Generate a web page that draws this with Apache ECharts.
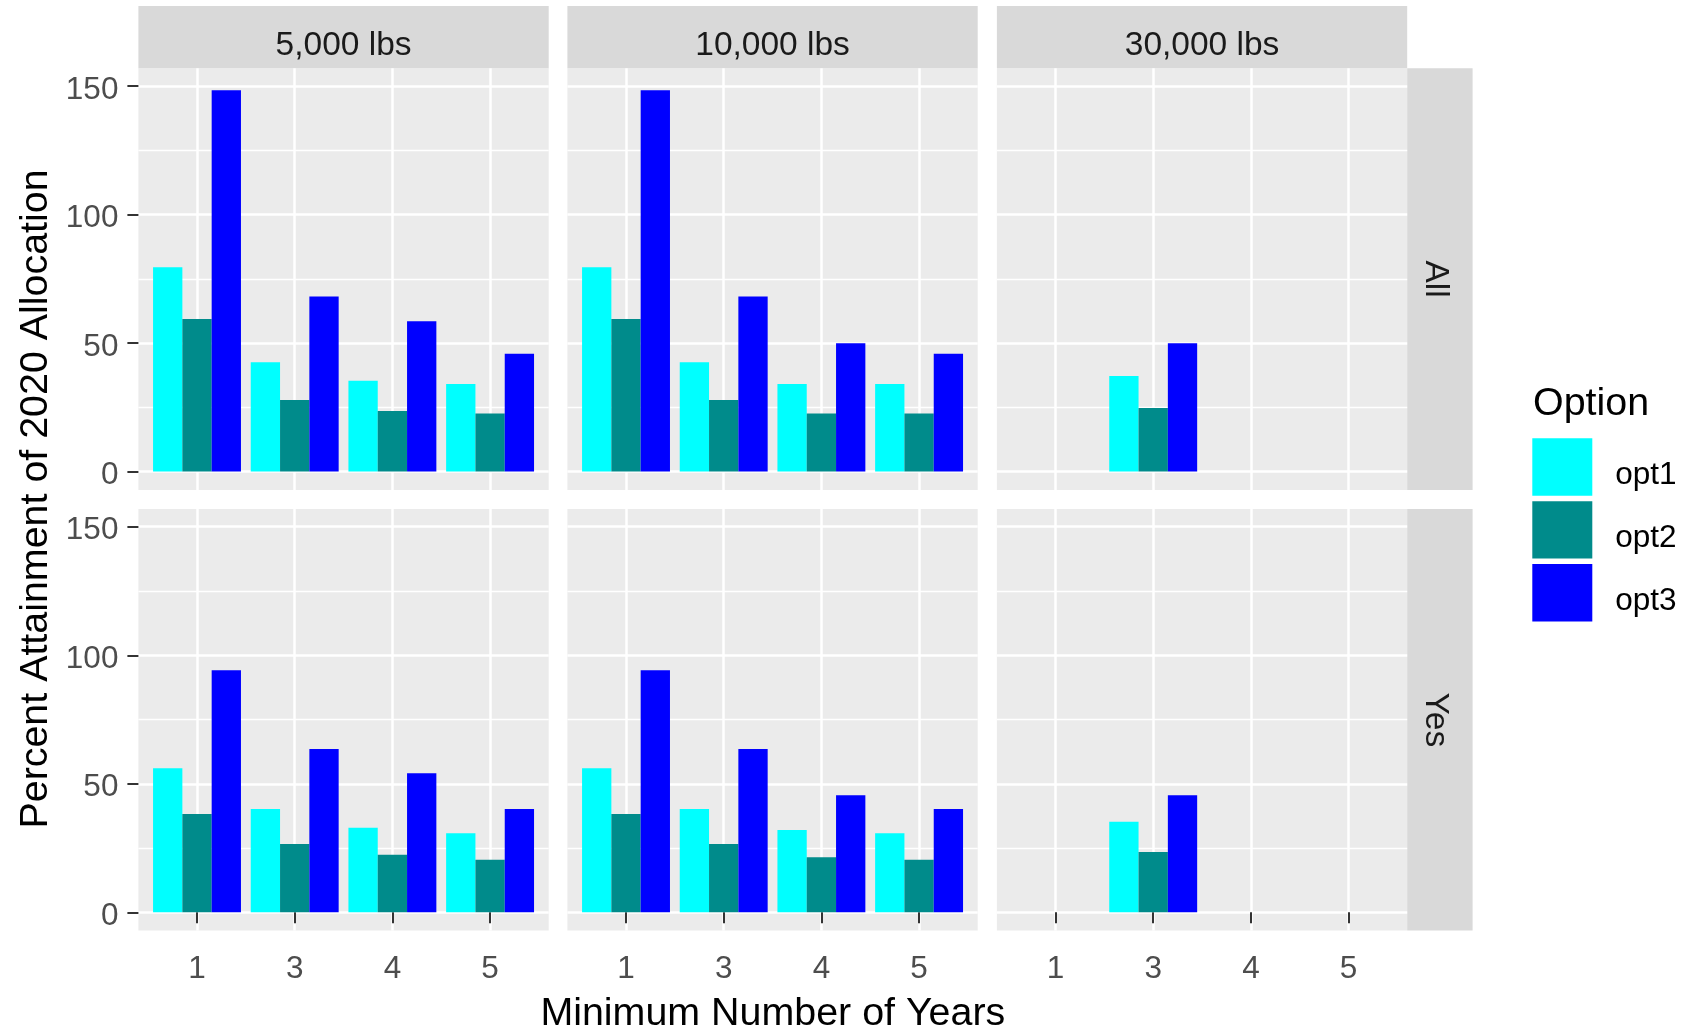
<!DOCTYPE html>
<html>
<head>
<meta charset="utf-8">
<script src="https://cdn.jsdelivr.net/npm/echarts@6/dist/echarts.min.js"></script>
<style>
  html, body { margin: 0; padding: 0; background: #ffffff; }
  #chart { width: 1689px; height: 1032px; }
</style>
</head>
<body>
<div id="chart"></div>
<script>
// Facet labels and category labels
const years = ['1', '3', '4', '5'];
const weightLabels = ['5,000 lbs', '10,000 lbs', '30,000 lbs'];
const groupLabels = ['All', 'Yes'];
const optionNames = ['opt1', 'opt2', 'opt3'];
const yTicks = [0, 50, 100, 150];
const yMinorTicks = [25, 75, 125];

// Percent attainment of 2020 allocation.
// Each array: one row per weight panel (5,000 / 10,000 / 30,000 lbs),
// one value per minimum number of years (1, 3, 4, 5).
const opt1All = [[79.5, 42.5, 35.3, 34.1], [79.5, 42.5, 34.1, 34.1], [null, 37.2, null, null]];
const opt2All = [[59.4, 27.9, 23.6, 22.6], [59.4, 27.9, 22.6, 22.6], [null, 24.7, null, null]];
const opt3All = [[148.4, 68.1, 58.5, 45.8], [148.4, 68.1, 49.9, 45.8], [null, 49.9, null, null]];
const opt1Yes = [[56.0, 40.2, 32.9, 30.8], [56.0, 40.2, 32.0, 30.8], [null, 35.2, null, null]];
const opt2Yes = [[38.2, 26.6, 22.4, 20.4], [38.2, 26.6, 21.4, 20.4], [null, 23.5, null, null]];
const opt3Yes = [[94.2, 63.5, 54.1, 40.2], [94.2, 63.5, 45.5, 40.2], [null, 45.5, null, null]];

// ---- styling / layout ----
const FONT = '"Liberation Sans", Arial, Helvetica, sans-serif';
const COLORS = ['#00FFFF', '#008B8B', '#0000FF'];
const PANEL_BG = '#EBEBEB';
const STRIP_BG = '#D9D9D9';
const PANEL_LEFT = [138.4, 567.4, 996.9];
const PANEL_W = 410.3;
const PANEL_TOP = [68.3, 509.0];
const PANEL_H = 421.6;
const STRIP_TOP = 6.0;
const STRIP_H = 62.3;
const RSTRIP_LEFT = PANEL_LEFT[2] + PANEL_W;
const RSTRIP_W = 65.4;
const Y_MIN = -7.12, Y_MAX = 156.9;
const X_MIN = 0.4, X_MAX = 4.6;
const BAR_W = PANEL_W / (X_MAX - X_MIN) * 0.3;
const TICK_FS = 31.5, STRIP_FS = 33.5, TITLE_FS = 39.4;

const rowsData = [[opt1All, opt2All, opt3All], [opt1Yes, opt2Yes, opt3Yes]];
const xPositions = years.map((_, i) => i + 1);

const grids = [], xAxes = [], yAxes = [], series = [];

for (let r = 0; r < groupLabels.length; r++) {
  for (let c = 0; c < weightLabels.length; c++) {
    const g = r * weightLabels.length + c;
    grids.push({
      left: PANEL_LEFT[c], top: PANEL_TOP[r], width: PANEL_W, height: PANEL_H,
      show: true, backgroundColor: PANEL_BG, borderWidth: 0, containLabel: false
    });
    xAxes.push({
      type: 'value', gridIndex: g, min: X_MIN, max: X_MAX,
      axisLine: { show: false },
      axisTick: {
        show: r === 1, customValues: xPositions, length: 11,
        lineStyle: { color: '#333333', width: 2 }
      },
      axisLabel: {
        show: r === 1, customValues: xPositions, margin: 23,
        fontSize: TICK_FS, color: '#4D4D4D', fontFamily: FONT,
        formatter: v => years[Math.round(v) - 1]
      },
      splitLine: { show: true, lineStyle: { color: '#FFFFFF', width: 2.5 } }
    });
    // major y axis
    yAxes.push({
      type: 'value', gridIndex: g, min: Y_MIN, max: Y_MAX, position: 'left',
      axisLine: { show: false },
      axisTick: {
        show: c === 0, customValues: yTicks, length: 11,
        lineStyle: { color: '#333333', width: 2 }
      },
      axisLabel: {
        show: c === 0, customValues: yTicks, margin: 20,
        fontSize: TICK_FS, color: '#4D4D4D', fontFamily: FONT,
        formatter: v => '{v|' + v + '}',
        rich: { v: { fontSize: TICK_FS, color: '#4D4D4D', fontFamily: FONT, padding: [8, 0, 0, 0] } }
      },
      splitLine: { show: true, lineStyle: { color: '#FFFFFF', width: 2.5 } }
    });
    // minor y grid lines
    yAxes.push({
      type: 'value', gridIndex: g, min: Y_MIN, max: Y_MAX, position: 'right',
      axisLine: { show: false },
      axisTick: { show: false, customValues: yMinorTicks },
      axisLabel: { show: false, customValues: yMinorTicks },
      splitLine: { show: true, lineStyle: { color: '#FFFFFF', width: 1.3 } }
    });
    for (let k = 0; k < optionNames.length; k++) {
      const vals = rowsData[r][k][c];
      const data = [];
      vals.forEach((v, i) => { if (v !== null) data.push([xPositions[i], v]); });
      series.push({
        type: 'bar', name: optionNames[k],
        xAxisIndex: g, yAxisIndex: 2 * g,
        data: data,
        barWidth: BAR_W, barGap: '0%',
        itemStyle: { color: COLORS[k] },
        silent: true
      });
    }
  }
}

// facet strips, axis titles, legend title
const graphics = [];
weightLabels.forEach((lab, c) => {
  graphics.push({
    type: 'rect', silent: true,
    shape: { x: PANEL_LEFT[c], y: STRIP_TOP, width: PANEL_W, height: STRIP_H },
    style: { fill: STRIP_BG }
  });
  graphics.push({
    type: 'text', silent: true,
    x: PANEL_LEFT[c] + PANEL_W / 2, y: STRIP_TOP + STRIP_H / 2 + 8.7,
    style: {
      text: lab, fill: '#1A1A1A', font: STRIP_FS + 'px ' + FONT,
      textAlign: 'center', textVerticalAlign: 'middle'
    }
  });
});
groupLabels.forEach((lab, r) => {
  graphics.push({
    type: 'rect', silent: true,
    shape: { x: RSTRIP_LEFT, y: PANEL_TOP[r], width: RSTRIP_W, height: PANEL_H },
    style: { fill: STRIP_BG }
  });
  graphics.push({
    type: 'text', silent: true,
    x: RSTRIP_LEFT + RSTRIP_W / 2 - 5, y: PANEL_TOP[r] + PANEL_H / 2,
    rotation: -Math.PI / 2,
    style: {
      text: lab, fill: '#1A1A1A', font: STRIP_FS + 'px ' + FONT,
      textAlign: 'center', textVerticalAlign: 'middle'
    }
  });
});
graphics.push({
  type: 'text', silent: true,
  x: 36, y: 499, rotation: Math.PI / 2,
  style: {
    text: 'Percent Attainment of 2020 Allocation', fill: '#000000',
    font: TITLE_FS + 'px ' + FONT, textAlign: 'center', textVerticalAlign: 'middle'
  }
});
graphics.push({
  type: 'text', silent: true,
  x: (PANEL_LEFT[0] + RSTRIP_LEFT) / 2, y: 1014.5,
  style: {
    text: 'Minimum Number of Years', fill: '#000000',
    font: TITLE_FS + 'px ' + FONT, textAlign: 'center', textVerticalAlign: 'middle'
  }
});
graphics.push({
  type: 'text', silent: true,
  x: 1533, y: 404,
  style: {
    text: 'Option', fill: '#000000',
    font: TITLE_FS + 'px ' + FONT, textAlign: 'left', textVerticalAlign: 'middle'
  }
});

const chart = echarts.init(document.getElementById('chart'), null, { renderer: 'canvas' });
chart.setOption({
  animation: false,
  backgroundColor: '#FFFFFF',
  grid: grids,
  xAxis: xAxes,
  yAxis: yAxes,
  legend: {
    orient: 'vertical', left: 1532.3, top: 438.3, padding: 0,
    itemWidth: 60, itemHeight: 57.4, itemGap: 5.5,
    icon: 'rect', selectedMode: false, data: optionNames,
    formatter: name => '{t|' + name + '}',
    textStyle: {
      fontSize: TICK_FS, color: '#000000', fontFamily: FONT,
      padding: [0, 0, 0, 18],
      rich: { t: { fontSize: TICK_FS, color: '#000000', fontFamily: FONT, padding: [17, 0, 0, 0] } }
    }
  },
  series: series,
  graphic: graphics
});
</script>
</body>
</html>
